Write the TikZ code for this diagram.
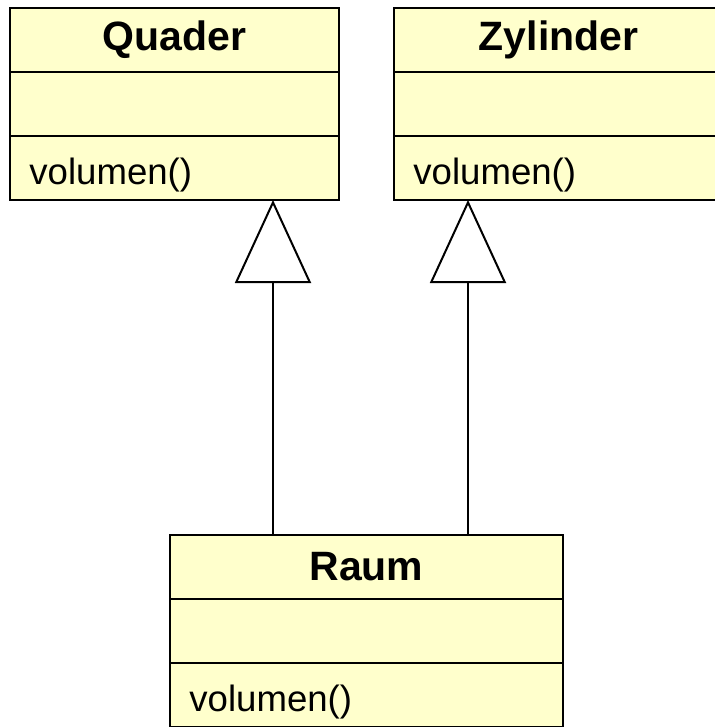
\documentclass[tikz,border=0pt]{standalone}
\usepackage{fontspec}
\setmainfont{Liberation Sans}
\usepackage{xcolor}
\usetikzlibrary{positioning,arrows.meta}
\definecolor{classfill}{HTML}{FFFFCC}

\begin{document}
\begin{tikzpicture}[x=0.5pt,y=-0.5pt,
  classpart/.style={draw=black, line width=1.4pt, fill=classfill, minimum width=#1, minimum height=32pt, inner sep=0pt, outer sep=0pt},
  classname/.style={classpart=#1, font=\fontsize{20.5}{24}\selectfont\bfseries},
  methname/.style={anchor=west, inner sep=0pt, font=\fontsize{18.3}{22}\selectfont},
  inherit/.style={line width=1pt, -{Triangle[open, length=41.5pt, width=38pt]}}]

\useasboundingbox (0,0) rectangle (715,727);

% Quader
\node[classname=164.5pt] (quader) at (174.5,40) {Quader};
\node[classpart=164.5pt, below=0pt of quader] (quaderattr) {};
\node[classpart=164.5pt, below=0pt of quaderattr] (quadermeth) {};
\node[methname] (quadervol) at ([xshift=9.5pt,yshift=-3.5pt]quadermeth.west) {volumen()};

% Zylinder
\node[classname=164.5pt] (zylinder) at (558.5,40) {Zylinder};
\node[classpart=164.5pt, below=0pt of zylinder] (zylinderattr) {};
\node[classpart=164.5pt, below=0pt of zylinderattr] (zylindermeth) {};
\node[methname] (zylindervol) at ([xshift=9.5pt,yshift=-3.5pt]zylindermeth.west) {volumen()};

% Raum
\node[classname=196.5pt] (raum) at (366.5,567) {Raum};
\node[classpart=196.5pt, below=0pt of raum] (raumattr) {};
\node[classpart=196.5pt, below=0pt of raumattr] (raummeth) {};
\node[methname] (raumvol) at ([xshift=9.5pt,yshift=-3.5pt]raummeth.west) {volumen()};

\draw[inherit] ([xshift=-46.75pt]raum.north) -- ([xshift=49.25pt]quadermeth.south);
\draw[inherit] ([xshift=50.75pt]raum.north) -- ([xshift=-45.25pt]zylindermeth.south);
\end{tikzpicture}
\end{document}
